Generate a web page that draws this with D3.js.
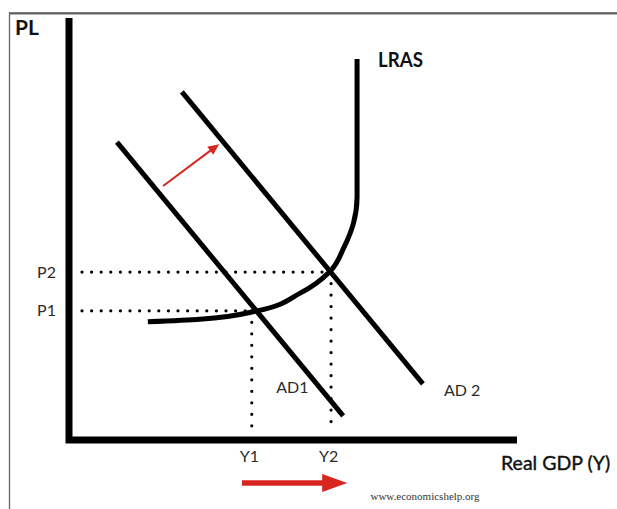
<!DOCTYPE html>
<html>
<head>
<meta charset="utf-8">
<script src="https://cdnjs.cloudflare.com/ajax/libs/d3/7.8.5/d3.min.js"></script>
<style>
  body { margin: 0; background: #fff; }
  svg { display: block; }
  .lbl { font-family: Lato, "Open Sans", sans-serif; fill: #2b2b2b; font-size: 16px; }
</style>
</head>
<body>
<div id="chart"></div>
<script>
// ---- data (abstract units, 0..10 on both axes) ----
var ad1 = [[1.07, 7.06], [6.12, 0.57]];
var ad2 = [[2.52, 8.25], [7.90, 1.33]];
// LRAS from its top down to the flat end on the left
var lras = [[6.43, 9.03], [6.43, 5.76], [6.35, 5.14], [6.14, 4.57], [5.83, 4.00],
            [5.16, 3.48], [4.20, 3.06], [2.92, 2.86], [1.76, 2.80]];
var outputLevels = [4.08, 5.85];
var outputLabels = ['Y1', 'Y2'];
var priceLevels = [3.06, 3.98];
var priceLabels = ['P1', 'P2'];
var shiftArrow = [[2.10, 6.02], [3.35, 7.01]];
var outputArrow = [[3.86, -1.02], [6.21, -1.02]];

var width = 617, height = 509;
var svg = d3.select('#chart').append('svg')
  .attr('width', width).attr('height', height);

var x = d3.scaleLinear().domain([0, 10]).range([69, 517]);
var y = d3.scaleLinear().domain([0, 10]).range([440, 18]);

// picture frame (top + left edge)
svg.append('path')
  .attr('d', 'M9.5,' + height + ' V13 H' + width)
  .attr('fill', 'none').attr('stroke', '#666').attr('stroke-width', 1.3);
svg.append('line')
  .attr('x1', 9).attr('x2', width).attr('y1', 13.5).attr('y2', 13.5)
  .attr('stroke', '#666').attr('stroke-width', 2.2);

// dotted guides
var red = '#d8251f';
outputLevels.forEach(function(q, i) {
  var p = priceLevels[i];
  svg.append('line')
    .attr('x1', x(0) + 13).attr('x2', x(q))
    .attr('y1', y(p)).attr('y2', y(p))
    .attr('stroke', '#000').attr('stroke-width', 3.2)
    .attr('stroke-linecap', 'round').attr('stroke-dasharray', '0 9.6');
  svg.append('line')
    .attr('x1', x(q)).attr('x2', x(q))
    .attr('y1', y(p)).attr('y2', y(0) - 7)
    .attr('stroke', '#000').attr('stroke-width', 3.2)
    .attr('stroke-linecap', 'round').attr('stroke-dasharray', '0 11.5');
});

// curves
var line = d3.line().x(function(d) { return x(d[0]); }).y(function(d) { return y(d[1]); });
var smooth = d3.line().x(function(d) { return x(d[0]); }).y(function(d) { return y(d[1]); })
  .curve(d3.curveMonotoneY);

[ad1, ad2].forEach(function(d) {
  svg.append('path').attr('d', line(d))
    .attr('fill', 'none').attr('stroke', '#000').attr('stroke-width', 5);
});
svg.append('path').attr('d', smooth(lras))
  .attr('fill', 'none').attr('stroke', '#000').attr('stroke-width', 5);

// axes
svg.append('path')
  .attr('d', 'M' + x(0) + ',' + y(10) + ' V' + y(0) + ' H' + x(10))
  .attr('fill', 'none').attr('stroke', '#000').attr('stroke-width', 7)
  .attr('stroke-linejoin', 'miter');

var yAxis = svg.append('g').attr('transform', 'translate(' + x(0) + ',0)')
  .call(d3.axisLeft(y).tickValues(priceLevels)
    .tickFormat(function(d, i) { return priceLabels[i]; })
    .tickSize(0).tickPadding(13));
var xAxis = svg.append('g').attr('transform', 'translate(0,' + y(0) + ')')
  .call(d3.axisBottom(x).tickValues(outputLevels)
    .tickFormat(function(d, i) { return outputLabels[i]; })
    .tickSize(0).tickPadding(11));
[yAxis, xAxis].forEach(function(g) {
  g.select('.domain').remove();
  g.selectAll('text').attr('class', 'lbl').attr('font-family', null).attr('font-size', null);
});
xAxis.selectAll('text').attr('dx', -3);

// arrows
function arrow(pts, w, headLen, headHalf) {
  var x1 = x(pts[0][0]), y1 = y(pts[0][1]), x2 = x(pts[1][0]), y2 = y(pts[1][1]);
  var a = Math.atan2(y2 - y1, x2 - x1);
  var bx = x2 - headLen * Math.cos(a), by = y2 - headLen * Math.sin(a);
  svg.append('line')
    .attr('x1', x1).attr('y1', y1).attr('x2', bx + Math.cos(a)).attr('y2', by + Math.sin(a))
    .attr('stroke', red).attr('stroke-width', w);
  var nx = -Math.sin(a) * headHalf, ny = Math.cos(a) * headHalf;
  svg.append('path')
    .attr('d', 'M' + [x2, y2] + ' L' + [bx + nx, by + ny] + ' L' + [bx - nx, by - ny] + 'Z')
    .attr('fill', red);
}
arrow(shiftArrow, 2, 11, 5);
arrow(outputArrow, 5.5, 25, 9);

// labels
svg.append('text').attr('class', 'lbl')
  .attr('x', x(0) - 54).attr('y', y(10) + 17)
  .style('font-size', '21px').style('font-weight', 700).style('fill', '#111')
  .text('PL');
svg.append('text').attr('class', 'lbl')
  .attr('x', x(10) - 16).attr('y', y(0) + 30)
  .style('font-size', '19.5px').style('fill', '#111')
  .style('stroke', '#111').style('stroke-width', 0.4)
  .text('Real GDP (Y)');
var lrasTop = lras[0];
svg.append('text').attr('class', 'lbl')
  .attr('x', x(lrasTop[0]) + 21).attr('y', y(lrasTop[1]) + 8)
  .attr('textLength', 45).attr('lengthAdjust', 'spacingAndGlyphs')
  .style('font-size', '21px').style('font-weight', 700).style('fill', '#111')
  .text('LRAS');

// AD1 label sits left of its line, AD 2 beyond the end of its line
var adSlope = (ad1[1][0] - ad1[0][0]) / (ad1[1][1] - ad1[0][1]);
var ad1LabelY = 1.25;
svg.append('text').attr('class', 'lbl')
  .attr('x', x(ad1[0][0] + (ad1LabelY - ad1[0][1]) * adSlope) - 11)
  .attr('y', y(ad1LabelY) + 6)
  .attr('text-anchor', 'end')
  .text('AD1');
svg.append('text').attr('class', 'lbl')
  .attr('x', x(ad2[1][0]) + 21).attr('y', y(ad2[1][1]) + 12)
  .text('AD 2');

svg.append('text')
  .attr('x', 425).attr('y', 500).attr('text-anchor', 'middle')
  .attr('font-family', '"Liberation Serif", serif').attr('font-size', 11)
  .attr('fill', '#333')
  .text('www.economicshelp.org');
</script>
</body>
</html>
